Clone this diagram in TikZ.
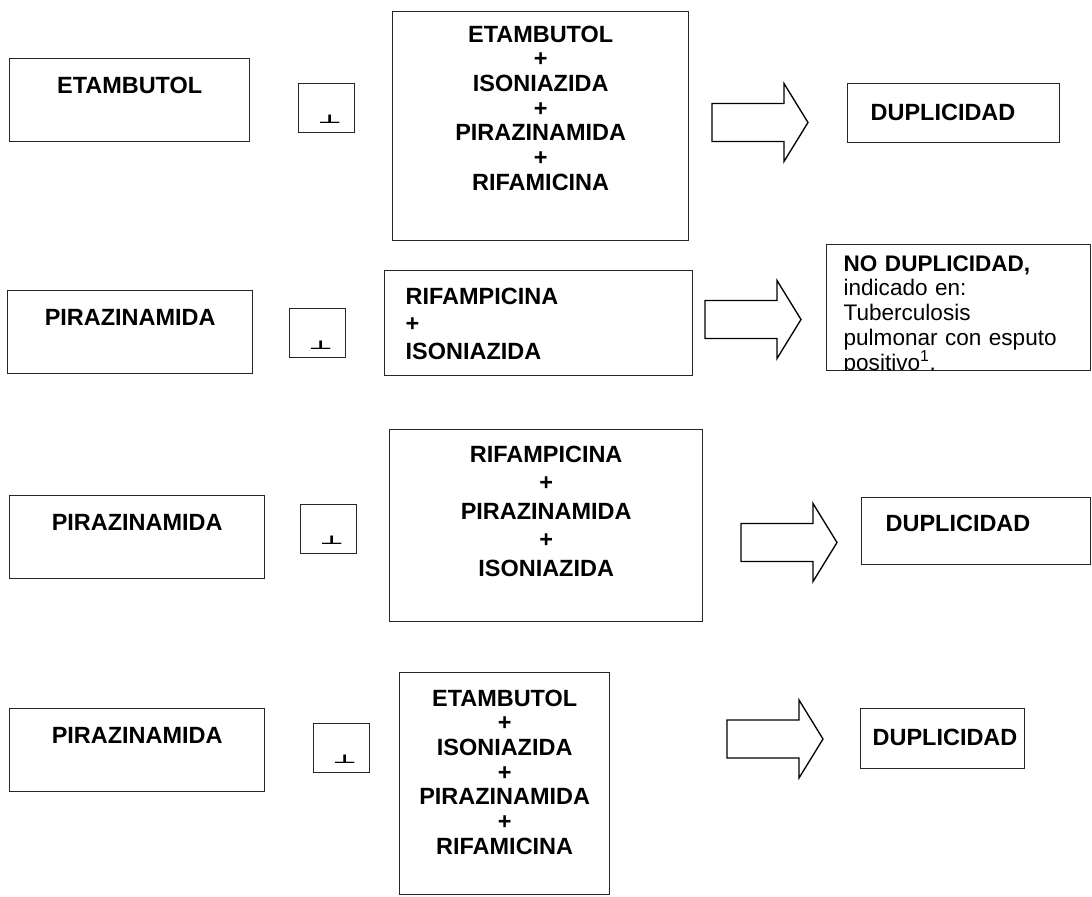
\documentclass[tikz,border=0pt]{standalone}
\usepackage{fontspec}
\setmainfont{Liberation Sans}
\newfontfamily\simbolo{DejaVu Sans}
\usetikzlibrary{positioning}

\begin{document}
\begin{tikzpicture}[
    x=0.75pt, y=-0.75pt,
    caja/.style={draw=black!85, line width=1pt, anchor=north west, inner xsep=0pt,
        text height=12.6pt, font=\bfseries\fontsize{17.6}{18.5}\selectfont, align=center},
    farmaco/.style={caja, minimum width=#1, inner ysep=13.2pt, text depth=23.25pt},
    mezcla/.style={caja, text width=#1},
    resultado/.style={caja, align=left, inner xsep=#1},
    signo/.style={draw=black!85, line width=1pt, anchor=north west, inner sep=0pt,
        minimum width=42pt, minimum height=36.75pt},
    glifo/.style={inner sep=0pt, font=\simbolo\bfseries\fontsize{15}{15}\selectfont},
    flecha/.pic={\draw[line width=1pt, fill=white]
        (0,-19) -- (72,-19) -- (72,-39) -- (96,0) -- (72,39) -- (72,19) -- (0,19) -- cycle;}
]
\useasboundingbox (0,0) rectangle (1092,896);

% fila 1
\node[farmaco=180pt] (eta1) at (9,58) {ETAMBUTOL};
\node[signo] (s1) at (298,83) {};
\node[glifo] (g1) at ([shift={(3,11)}]s1.center) {\scalebox{1.3}[0.6]{⊥}};
\node[mezcla=222pt, inner ysep=10.2pt, text depth=138.75pt] (comb1) at (392,11)
    {ETAMBUTOL\\+\\ISONIAZIDA\\+\\PIRAZINAMIDA\\+\\RIFAMICINA};
\pic at (712,122.5) {flecha};
\node[resultado=17.25pt, text width=124.5pt, inner ysep=14.7pt, text depth=2.25pt] (dup1) at (847,83) {DUPLICIDAD};

% fila 2
\node[farmaco=183.75pt] (pir2) at (7,290) {PIRAZINAMIDA};
\node[signo] (s2) at (289,308) {};
\node[glifo] (g2) at ([shift={(3,12)}]s2.center) {\scalebox{1.3}[0.6]{⊥}};
\node[resultado=15.75pt, text width=199.5pt, inner ysep=12.45pt, text depth=41.25pt,
    font=\bfseries\fontsize{17.6}{20.6}\selectfont] (comb2) at (384,270)
    {RIFAMPICINA\\+\\ISONIAZIDA};
\pic at (705,319.5) {flecha};
\begin{scope}
    \clip (820,236) rectangle (1092,370.7);
    \node[resultado=12.75pt, text width=172.5pt, inner ysep=7.2pt, text depth=67.5pt,
        font=\fontsize{16.9}{18.6}\selectfont] (nodup2) at (826,244)
        {\textbf{NO DUPLICIDAD,}\\indicado en:\\Tuberculosis\\pulmonar con esputo\\positivo\textsuperscript{1}.};
\end{scope}

% fila 3
\node[farmaco=191.25pt] (pir3) at (9,495) {PIRAZINAMIDA};
\node[signo] (s3) at (300,504) {};
\node[glifo] (g3) at ([shift={(3,11)}]s3.center) {\scalebox{1.3}[0.6]{⊥}};
\node[mezcla=234.75pt, inner ysep=11.7pt, text depth=108pt,
    font=\bfseries\fontsize{17.6}{21.4}\selectfont] (comb3) at (389,429)
    {RIFAMPICINA\\+\\PIRAZINAMIDA\\+\\ISONIAZIDA};
\pic at (741,542.5) {flecha};
\node[resultado=18pt, text width=135.75pt, inner ysep=12.45pt, text depth=12.75pt] (dup3) at (861,497) {DUPLICIDAD};

% fila 4
\node[farmaco=191.25pt] (pir4) at (9,708) {PIRAZINAMIDA};
\node[signo] (s4) at (313,723) {};
\node[glifo] (g4) at ([shift={(3,11)}]s4.center) {\scalebox{1.3}[0.6]{⊥}};
\node[mezcla=157.5pt, inner ysep=12.45pt, text depth=129pt] (comb4) at (399,672)
    {ETAMBUTOL\\+\\ISONIAZIDA\\+\\PIRAZINAMIDA\\+\\RIFAMICINA};
\pic at (727,739) {flecha};
\node[resultado=9pt, text width=105pt, inner ysep=14.7pt, text depth=3pt] (dup4) at (860,708) {DUPLICIDAD};
\end{tikzpicture}
\end{document}
